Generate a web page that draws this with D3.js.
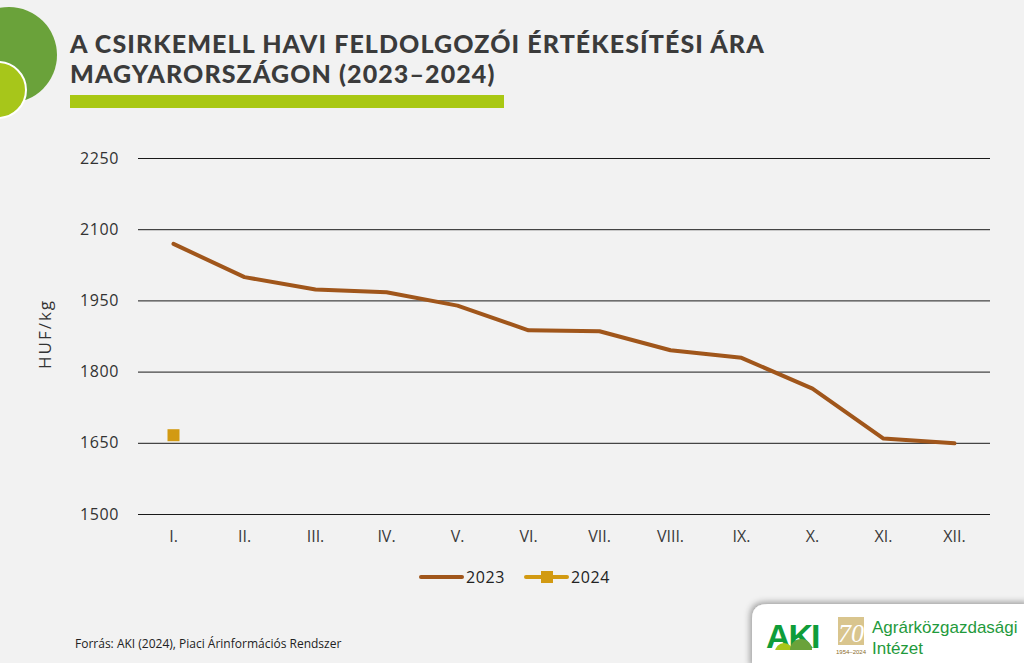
<!DOCTYPE html>
<html lang="hu">
<head>
  <meta charset="UTF-8">
  <title>Csirkemell havi feldolgozói értékesítési ára</title>
  <style>
    body { margin: 0; background: #f2f2f2; }
    svg { display: block; background-color: #f2f2f2; }
  </style>
  <script src="https://d3js.org/d3.v7.min.js"></script>
</head>
<body>
  <svg width="1024" height="663"></svg>

  <script>
    // adatok
    var months = ["I.", "II.", "III.", "IV.", "V.", "VI.", "VII.", "VIII.", "IX.", "X.", "XI.", "XII."];
    var values2023 = [2069, 1999, 1973, 1967, 1939, 1887, 1885, 1845, 1829, 1764, 1659, 1649];
    var values2024 = [1666];
    var yTicks = [1500, 1650, 1800, 1950, 2100, 2250];

    var svg = d3.select("svg");
    var margin = { left: 138, right: 990, top: 158, bottom: 514 };
    var labelFont = "'Open Sans', sans-serif";

    // díszítő körök bal felül
    svg.append("circle").attr("cx", 9).attr("cy", 55).attr("r", 48).attr("fill", "#6aa23a");
    svg.append("circle").attr("cx", -2).attr("cy", 90).attr("r", 28)
      .attr("fill", "#a7c61a").attr("stroke", "#ffffff").attr("stroke-width", 2);

    // cím
    var title = svg.append("text")
      .attr("font-family", "Lato, 'Open Sans', sans-serif")
      .attr("font-weight", 900)
      .attr("font-size", 25)
      .attr("letter-spacing", 1.1)
      .attr("fill", "#3b3b3b");
    title.append("tspan").attr("x", 70).attr("y", 53).text("A CSIRKEMELL HAVI FELDOLGOZÓI ÉRTÉKESÍTÉSI ÁRA");
    title.append("tspan").attr("x", 70).attr("y", 83).text("MAGYARORSZÁGON (2023–2024)");

    svg.append("rect").attr("x", 70).attr("y", 95).attr("width", 434).attr("height", 13).attr("fill", "#a9c813");

    // skálák
    var x = d3.scaleBand().domain(months).range([margin.left, margin.right]);
    var y = d3.scaleLinear().domain([1500, 2250]).range([margin.bottom, margin.top]);

    // rácsvonalak
    svg.append("g")
      .selectAll("line")
      .data(yTicks)
      .enter().append("line")
      .attr("x1", margin.left).attr("x2", margin.right)
      .attr("y1", function(d) { return y(d) + 0.5; })
      .attr("y2", function(d) { return y(d) + 0.5; })
      .attr("stroke", "#1a1a1a").attr("stroke-width", 1);

    // tengelyfeliratok
    var yAxis = d3.axisLeft(y).tickValues(yTicks).tickFormat(d3.format("d")).tickSize(0).tickPadding(19);
    var gy = svg.append("g").attr("transform", "translate(" + margin.left + ",0)").call(yAxis);
    gy.select(".domain").remove();
    gy.selectAll("text")
      .attr("font-family", labelFont).attr("font-size", 16).attr("letter-spacing", 0.6).attr("fill", "#333");

    var xAxis = d3.axisBottom(x).tickSize(0).tickPadding(8);
    var gx = svg.append("g").attr("transform", "translate(0," + margin.bottom + ")").call(xAxis);
    gx.select(".domain").remove();
    gx.selectAll("text")
      .attr("font-family", labelFont).attr("font-size", 16).attr("fill", "#3a3a3a")
      .attr("dy", "0.71em").attr("y", 17);

    svg.append("text")
      .attr("transform", "translate(51,334) rotate(-90)")
      .attr("text-anchor", "middle")
      .attr("font-family", labelFont).attr("font-size", 17).attr("letter-spacing", 2).attr("fill", "#333")
      .text("HUF/kg");

    // 2023-as vonal
    var line = d3.line()
      .x(function(d, i) { return x(months[i]) + x.bandwidth() / 2; })
      .y(function(d) { return y(d); });

    svg.append("path")
      .datum(values2023)
      .attr("d", line)
      .attr("fill", "none")
      .attr("stroke", "#a0561b")
      .attr("stroke-width", 4)
      .attr("stroke-linejoin", "round")
      .attr("stroke-linecap", "round");

    // 2024-es pont(ok)
    svg.selectAll(".p2024")
      .data(values2024)
      .enter().append("rect")
      .attr("class", "p2024")
      .attr("x", function(d, i) { return x(months[i]) + x.bandwidth() / 2 - 6; })
      .attr("y", function(d) { return y(d) - 6; })
      .attr("width", 12).attr("height", 12)
      .attr("fill", "#d29a12");

    // jelmagyarázat
    var leg = svg.append("g").attr("font-family", labelFont).attr("font-size", 16).attr("fill", "#222");
    leg.append("line").attr("x1", 421).attr("x2", 462).attr("y1", 577).attr("y2", 577)
      .attr("stroke", "#a0561b").attr("stroke-width", 4).attr("stroke-linecap", "round");
    leg.append("text").attr("x", 466).attr("y", 583).attr("letter-spacing", 0.6).text("2023");
    leg.append("line").attr("x1", 526).attr("x2", 567).attr("y1", 577).attr("y2", 577)
      .attr("stroke", "#d29a12").attr("stroke-width", 4).attr("stroke-linecap", "round");
    leg.append("rect").attr("x", 541).attr("y", 571).attr("width", 12).attr("height", 12).attr("fill", "#d29a12");
    leg.append("text").attr("x", 571).attr("y", 583).attr("letter-spacing", 0.6).text("2024");

    // forrás
    svg.append("text")
      .attr("x", 75).attr("y", 648)
      .attr("font-family", labelFont).attr("font-size", 12).attr("fill", "#222")
      .text("Forrás: AKI (2024), Piaci Árinformációs Rendszer");

    // logó doboz
    var defs = svg.append("defs");
    var f = defs.append("filter").attr("id", "shadow").attr("x", "-10%").attr("y", "-30%").attr("width", "130%").attr("height", "160%");
    f.append("feDropShadow").attr("dx", -2).attr("dy", -2).attr("stdDeviation", 3).attr("flood-color", "#000").attr("flood-opacity", 0.35);

    var logo = svg.append("g");
    logo.append("path")
      .attr("d", "M1030,604 L768,604 Q752,604 752,619 L752,668 L1030,668 Z")
      .attr("fill", "#ffffff").attr("filter", "url(#shadow)");
    // AKI jel
    logo.append("text").attr("x", 766).attr("y", 648)
      .attr("font-family", "'Liberation Sans', Arial, sans-serif").attr("font-weight", 700)
      .attr("font-size", 34).attr("fill", "#0f9d3a").attr("letter-spacing", -2)
      .text("AKI");
    logo.append("circle").attr("cx", 784).attr("cy", 652).attr("r", 9).attr("fill", "#a7c61a");
    logo.append("circle").attr("cx", 801).attr("cy", 650).attr("r", 11).attr("fill", "#6aa23a");
    logo.append("rect").attr("x", 766).attr("y", 650).attr("width", 60).attr("height", 12).attr("fill", "#ffffff");
    // 70 éves jel
    logo.append("rect").attr("x", 838).attr("y", 617).attr("width", 26).attr("height", 28).attr("fill", "#d9c58e");
    logo.append("text").attr("x", 851).attr("y", 642).attr("text-anchor", "middle")
      .attr("font-family", "'Liberation Serif', serif").attr("font-size", 26).attr("font-style", "italic")
      .attr("fill", "#ffffff").text("70");
    logo.append("text").attr("x", 851).attr("y", 654).attr("text-anchor", "middle")
      .attr("font-family", "'Liberation Sans', sans-serif").attr("font-size", 6).attr("fill", "#8a6d2a")
      .text("1954–2024");
    logo.append("text").attr("x", 872).attr("y", 633)
      .attr("font-family", "'Liberation Sans', Arial, sans-serif").attr("font-size", 17).attr("fill", "#1f9a3c")
      .text("Agrárközgazdasági");
    logo.append("text").attr("x", 872).attr("y", 654)
      .attr("font-family", "'Liberation Sans', Arial, sans-serif").attr("font-size", 17).attr("fill", "#1f9a3c")
      .text("Intézet");
  </script>
</body>
</html>
